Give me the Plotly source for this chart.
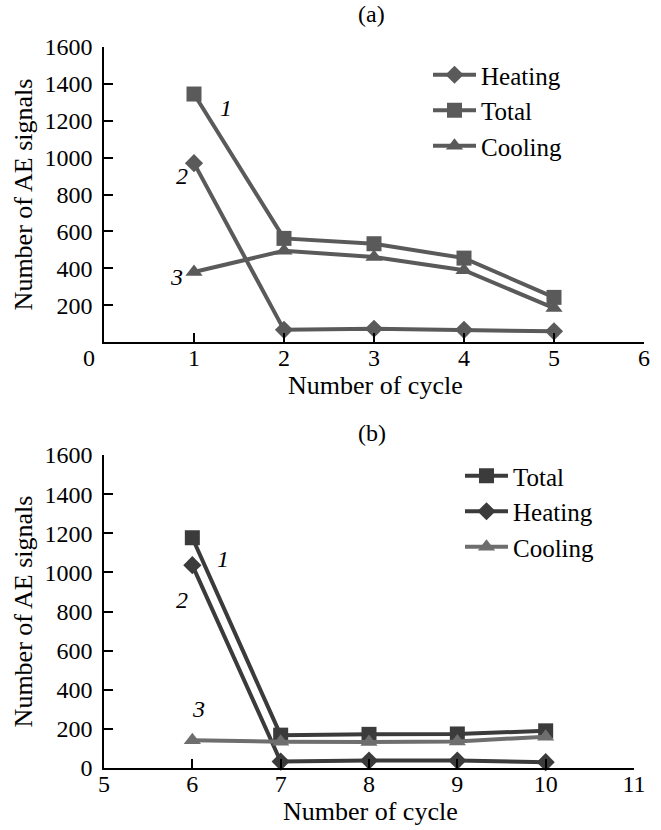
import plotly.graph_objects as go

# Cycles 1-5 (panel a) and 6-10 (panel b)
cycles_a = [1, 2, 3, 4, 5]
heating_a = [970, 66, 72, 66, 58]
total_a = [1345, 562, 533, 455, 242]
cooling_a = [380, 495, 461, 389, 184]

cycles_b = [6, 7, 8, 9, 10]
total_b = [1177, 168, 172, 174, 190]
heating_b = [1037, 33, 38, 38, 30]
cooling_b = [142, 134, 133, 136, 160]

y_ticks = [0, 200, 400, 600, 800, 1000, 1200, 1400, 1600]
y_ticktext_a = [""] + [str(v) for v in y_ticks[1:]]
x_ticks_a = [0, 1, 2, 3, 4, 5, 6]
# the "0" label sits a little left of the origin
x_ticktext_a = ["0" + "\u00a0" * 5, "1", "2", "3", "4", "5", "6"]
x_ticks_b = [5, 6, 7, 8, 9, 10, 11]

FONT = "Liberation Serif"
GREY_A = "#5a5a5a"
DARK_B = "#3b3b3b"
LIGHT_B = "#6e6e6e"

fig = go.Figure()


def add_series(x, y, name, color, symbol, size, xa, ya, legend):
    fig.add_trace(go.Scatter(
        x=x, y=y, name=name, mode="lines+markers",
        line=dict(color=color, width=4),
        marker=dict(symbol=symbol, size=size, color=color),
        xaxis=xa, yaxis=ya, legend=legend, cliponaxis=False,
    ))


# Panel (a)
add_series(cycles_a, heating_a, "Heating", GREY_A, "diamond", 14, "x", "y", "legend")
add_series(cycles_a, total_a, "Total", GREY_A, "square", 15, "x", "y", "legend")
add_series(cycles_a, cooling_a, "Cooling", GREY_A, "triangle-up", 15, "x", "y", "legend")

# Panel (b)
add_series(cycles_b, total_b, "Total", DARK_B, "square", 15, "x2", "y2", "legend2")
add_series(cycles_b, heating_b, "Heating", DARK_B, "diamond", 14, "x2", "y2", "legend2")
add_series(cycles_b, cooling_b, "Cooling", LIGHT_B, "triangle-up", 15, "x2", "y2", "legend2")

W, H = 661, 830


def px_x(p):
    return p / W


def px_y(p):
    return 1 - p / H


axis_common = dict(
    showline=True, linecolor="black", linewidth=1.5,
    ticks="inside", ticklen=9, tickwidth=1.5, tickcolor="black",
    showgrid=False, zeroline=False, automargin=False,
    tickfont=dict(family=FONT, size=24, color="black"),
    title_font=dict(family=FONT, size=26, color="black"),
    fixedrange=True,
)

legend_common = dict(
    xanchor="left", yanchor="top", itemwidth=43,
    font=dict(family=FONT, size=25, color="black"),
    bgcolor="rgba(0,0,0,0)", tracegroupgap=0,
)

fig.update_layout(
    width=W, height=H,
    margin=dict(l=0, r=0, t=0, b=0, autoexpand=False),
    paper_bgcolor="white", plot_bgcolor="white",
    font=dict(family=FONT, color="black"),
    xaxis=dict(axis_common, domain=[px_x(104), px_x(644)], range=[0, 6],
               tickvals=x_ticks_a, ticktext=x_ticktext_a, anchor="y",
               ticklabelstandoff=-7),
    yaxis=dict(axis_common, domain=[px_y(342), px_y(47)], range=[0, 1600],
               tickvals=y_ticks, ticktext=y_ticktext_a, anchor="x",
               ticklabelstandoff=5,
               title=dict(text="Number of AE signals", standoff=4)),
    xaxis2=dict(axis_common, domain=[px_x(104), px_x(634)], range=[5, 11],
                tickvals=x_ticks_b, anchor="y2", ticklabelstandoff=-7),
    yaxis2=dict(axis_common, domain=[px_y(768), px_y(455)], range=[0, 1600],
                tickvals=y_ticks, anchor="x2", ticklabelstandoff=5,
                title=dict(text="Number of AE signals", standoff=4)),
    legend=dict(legend_common, x=px_x(428), y=px_y(52)),
    legend2=dict(legend_common, x=px_x(460), y=px_y(453)),
)

# Panel captions and x-axis titles
captions = [("(a)", 372, 14, 24), ("(b)", 372, 433, 24),
            ("Number of cycle", 375, 386, 26), ("Number of cycle", 370, 811, 26)]
for txt, cx, cy, fs in captions:
    fig.add_annotation(text=txt, x=px_x(cx), y=px_y(cy), xref="paper", yref="paper",
                       xanchor="center", yanchor="middle", showarrow=False,
                       font=dict(family=FONT, size=fs, color="black"))

# Curve numbers: 1 - total, 2 - heating, 3 - cooling
curve_labels_a = [("1", 1.35, 1270), ("2", 0.87, 900), ("3", 0.81, 350)]
curve_labels_b = [("1", 6.35, 1070), ("2", 5.88, 860), ("3", 6.07, 300)]
for txt, xv, yv in curve_labels_a:
    fig.add_annotation(text=txt, x=xv, y=yv, xref="x", yref="y", showarrow=False,
                       font=dict(family=FONT, size=24, color="black", style="italic"))
for txt, xv, yv in curve_labels_b:
    fig.add_annotation(text=txt, x=xv, y=yv, xref="x2", yref="y2", showarrow=False,
                       font=dict(family=FONT, size=24, color="black", style="italic"))

fig.write_html("out.html")
